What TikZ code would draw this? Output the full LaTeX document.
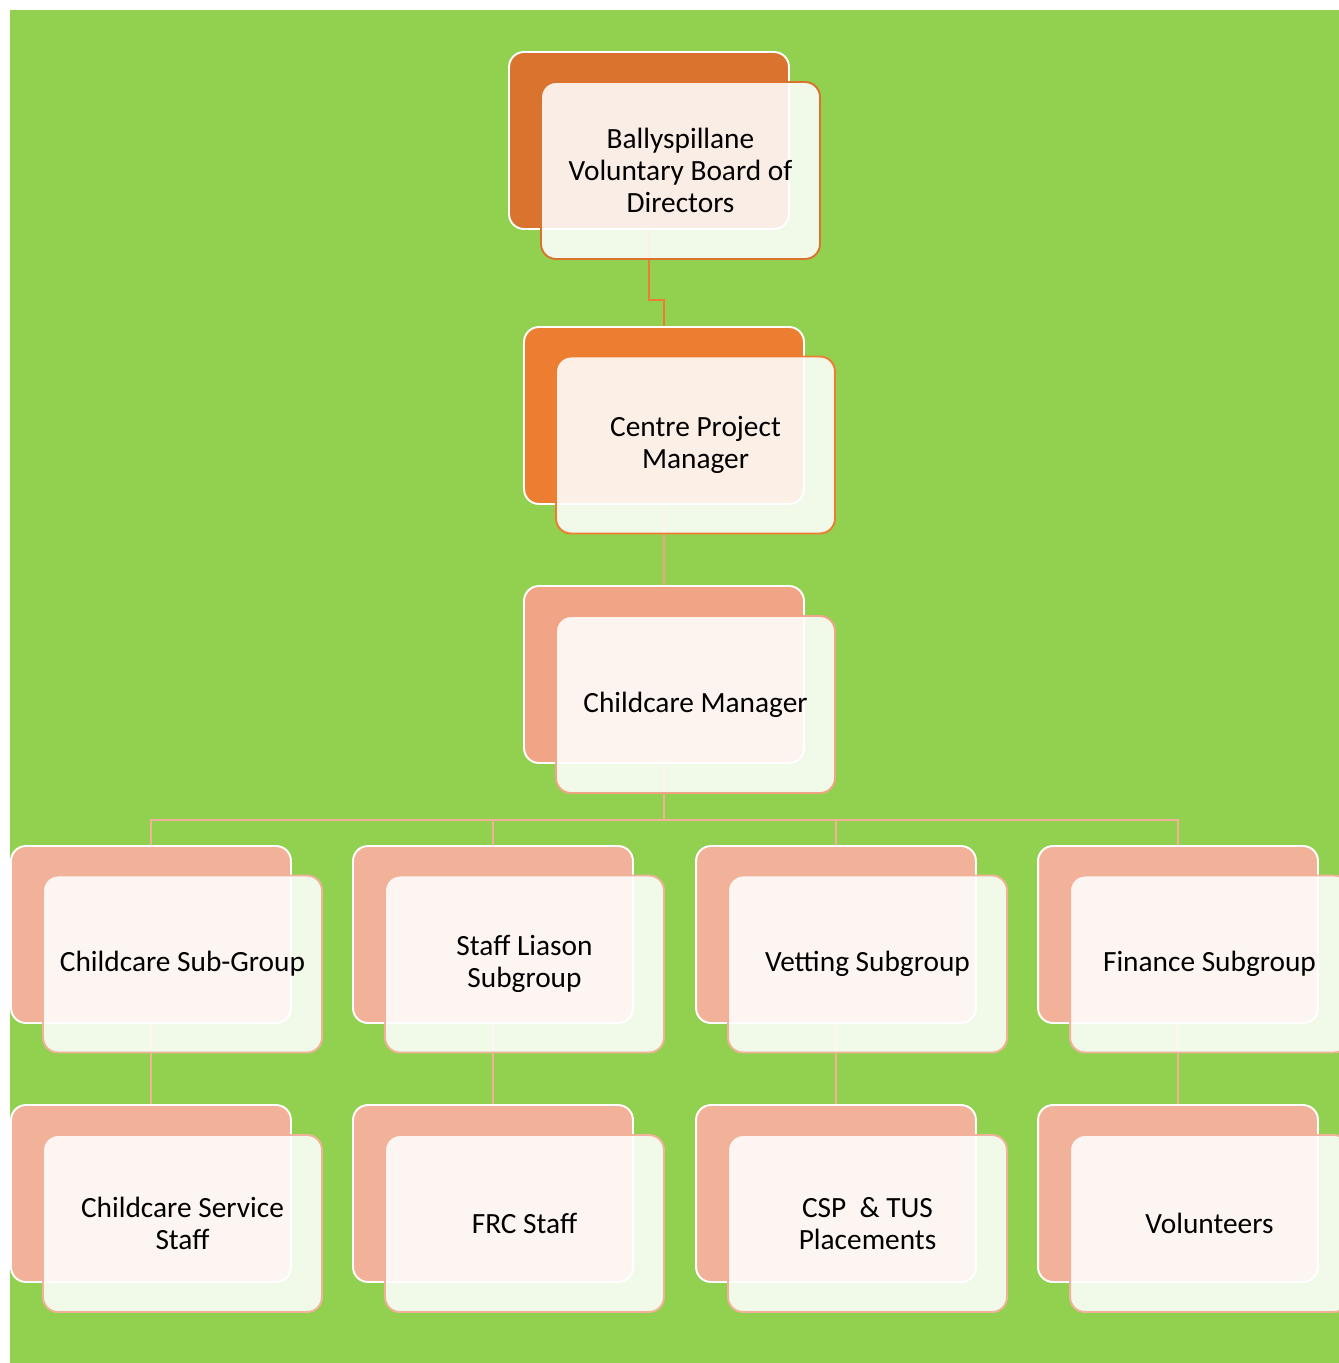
\documentclass[tikz,border=0pt]{standalone}
\usepackage{fontspec}
\setmainfont{Carlito}
\usepackage{tikz}
\definecolor{leaf}{HTML}{92D050}
\definecolor{rust}{HTML}{D9732E}
\definecolor{amber}{HTML}{ED7D31}
\definecolor{salmon}{HTML}{F2A586}
\definecolor{peach}{HTML}{F2B29A}
\tikzset{
  back/.style={draw=white, fill=#1, line width=1.1pt, rounded corners=8.5pt,
    minimum width=5.6cm, minimum height=3.54cm, inner sep=0pt},
  front/.style={draw=#1, fill=white, fill opacity=0.88, text opacity=1,
    line width=1.1pt, rounded corners=8.5pt, minimum width=5.58cm,
    minimum height=3.54cm, inner sep=0pt, align=center,
    font=\fontsize{16.7}{18.2}\selectfont},
  link/.style={draw=#1, line width=1.1pt}
}

\begin{document}
\begin{tikzpicture}[x=0.02cm, y=-0.02cm]
        \useasboundingbox (0, 0) rectangle (1339, 1363);
        \fill[leaf] (10, 10) rectangle (1339, 1363);
        % back boxes
        \node[back=rust](a)at(649, 140.5){};
        \node[back=amber](b)at(664, 415.5){};
        \node[back=salmon](c)at(664, 674.5){};
        \node[back=peach](d)at(151, 934.5){};
        \node[back=peach](e)at(493, 934.5){};
        \node[back=peach](f)at(836, 934.5){};
        \node[back=peach](g)at(1178, 934.5){};
        \node[back=peach](h)at(151, 1193.5){};
        \node[back=peach](i)at(493, 1193.5){};
        \node[back=peach](j)at(836, 1193.5){};
        \node[back=peach](k)at(1178, 1193.5){};
        % connectors
        \draw[link=amber](a.south) -- ++(0, 70) -| (b.north);
        \draw[link=salmon](b.south) -- (c.north);
        \draw[link=peach](c.south) -- ++(0, 56) -| (d.north);
        \draw[link=peach](c.south) -- ++(0, 56) -| (e.north);
        \draw[link=peach](c.south) -- ++(0, 56) -| (f.north);
        \draw[link=peach](c.south) -- ++(0, 56) -| (g.north);
        \draw[link=peach](d.south) -- (h.north);
        \draw[link=peach](e.south) -- (i.north);
        \draw[link=peach](f.south) -- (j.north);
        \draw[link=peach](g.south) -- (k.north);
        % front boxes
        \node[front=rust](a1)at(680.5, 170.5){Ballyspillane\\Voluntary Board of\\Directors};
        \node[front=amber](b1)at(695.5, 445){Centre Project\\Manager};
        \node[front=salmon](c1)at(695.5, 704.5){Childcare Manager};
        \node[front=peach](d1)at(182.5, 964){Childcare Sub-Group};
        \node[front=peach](e1)at(524.5, 964){Staff Liason\\Subgroup};
        \node[front=peach](f1)at(867.5, 964){Vetting Subgroup};
        \node[front=peach](g1)at(1209.5, 964){Finance Subgroup};
        \node[front=peach](h1)at(182.5, 1223.5){Childcare Service\\Staff};
        \node[front=peach](i1)at(524.5, 1223.5){FRC Staff};
        \node[front=peach](j1)at(867.5, 1223.5){CSP~~\& TUS\\Placements};
        \node[front=peach](k1)at(1209.5, 1223.5){Volunteers};
    \end{tikzpicture}
\end{document}
